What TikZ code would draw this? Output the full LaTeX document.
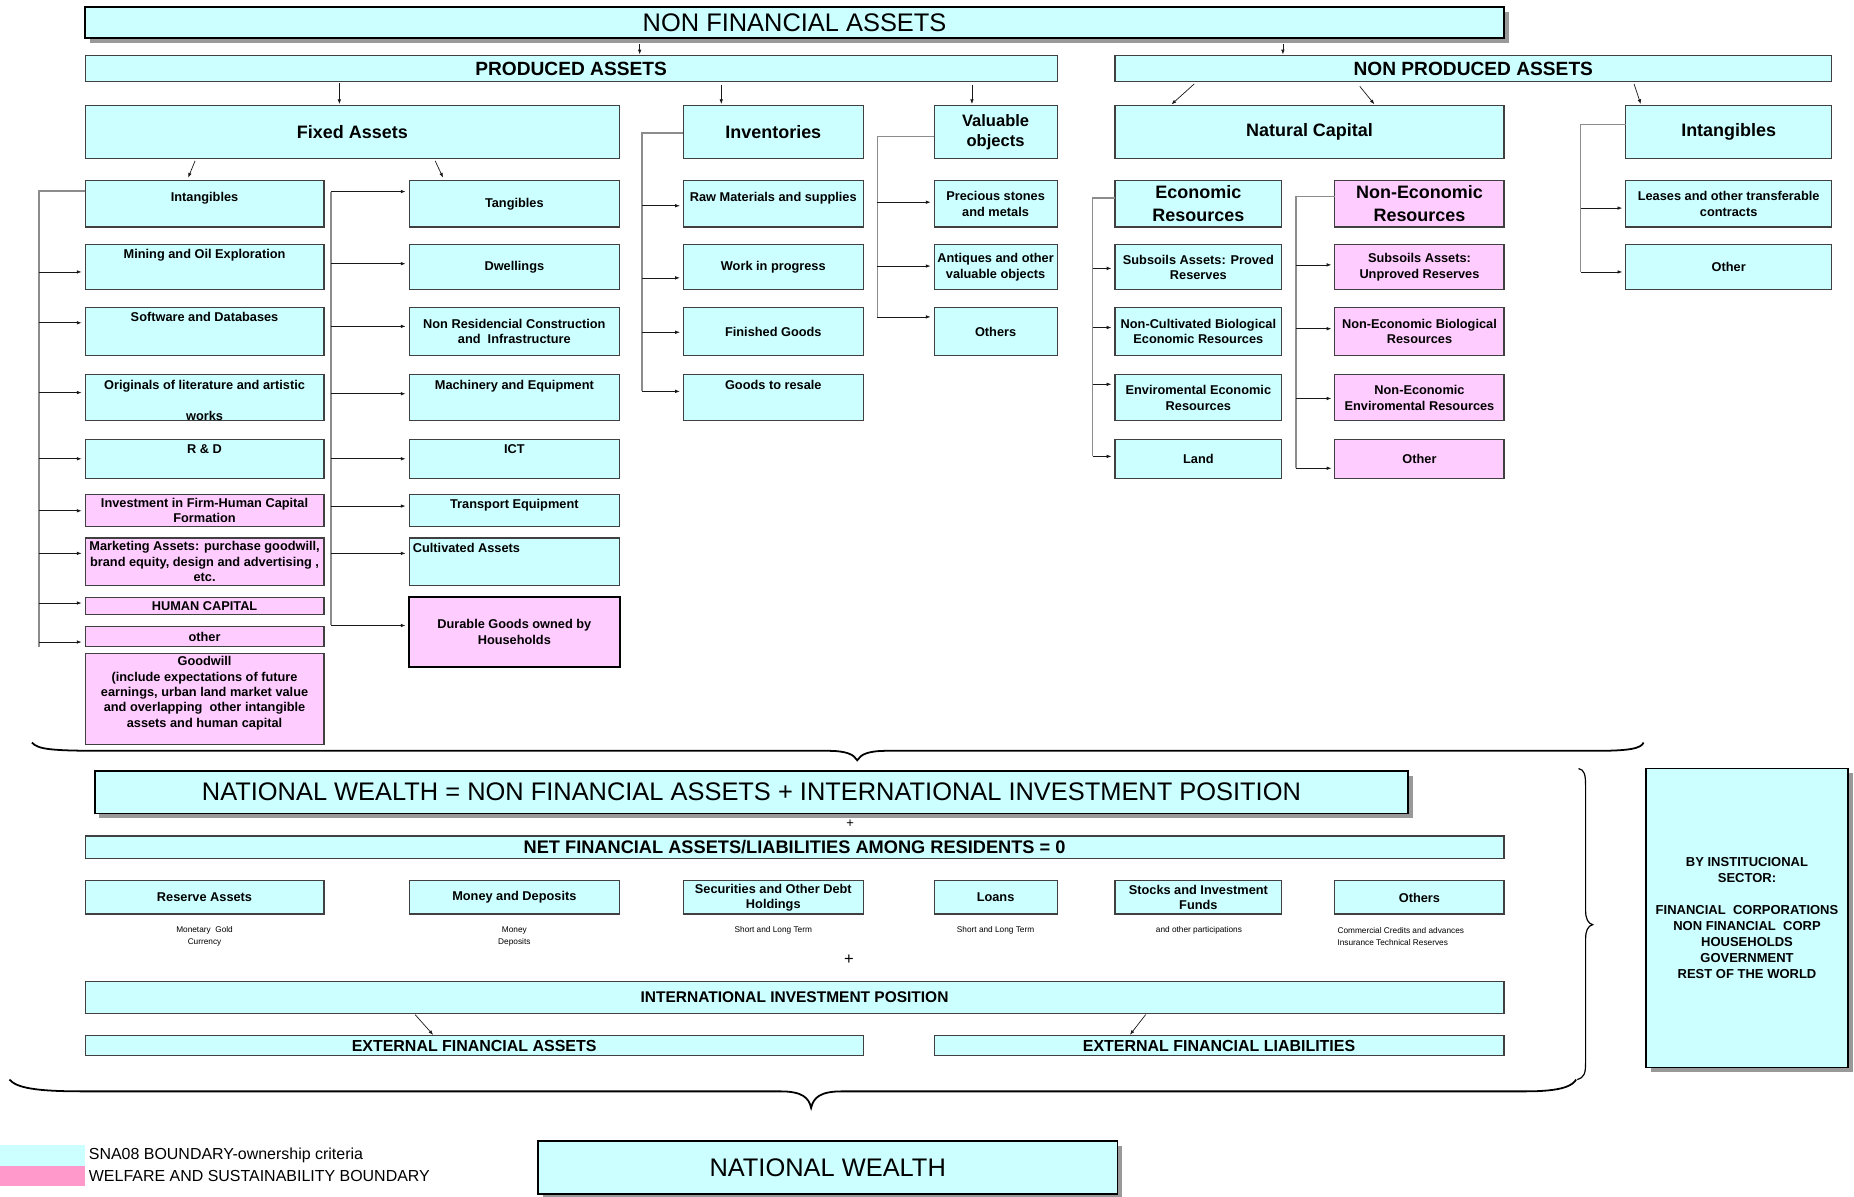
\documentclass[tikz,border=0pt]{standalone}
\usepackage{fontspec}
\setmainfont{Liberation Sans}
\usetikzlibrary{arrows.meta,shadows}
\definecolor{cy}{HTML}{CCFFFF}
\definecolor{pk}{HTML}{FFCCFF}
\definecolor{lpk}{HTML}{FF99CC}
\definecolor{lcy}{HTML}{CCFFFF}
\newcommand\bxc[8]{\node[#6,#7,minimum width={#4-#2},minimum height={#5-#3}] (#1) at ({(#2+#4)/2},{(#3+#5)/2}) {#8};}
\newcommand\bxt[8]{\node[#6,minimum width={#4-#2},minimum height={#5-#3}] (#1) at ({(#2+#4)/2},{(#3+#5)/2}) {};
  \node[anchor=north,#7] (#1t) at ([yshift=-4pt]#1.north) {#8};}
\newcommand\sparr[3]{\draw[arr] (#1,#2) -- (#3.west |- #1,#2);}
\tikzset{
  bxbase/.style={draw=black!75,line width=0.9pt,inner sep=0pt,outer sep=0pt},
  cyb/.style={bxbase,fill=cy},
  pkb/.style={bxbase,fill=pk},
  bigb/.style={cyb,draw=black,line width=1.6pt,drop shadow={shadow xshift=4pt,shadow yshift=-4pt,fill=black!40,opacity=1}},
  tb11/.style={font=\fontsize{10.8}{13}\selectfont\bfseries,align=center,inner sep=0pt},
  tb13/.style={font=\fontsize{13.1}{16}\selectfont\bfseries,align=center,inner sep=0pt},
  tb135/.style={font=\fontsize{13.5}{16}\selectfont\bfseries,align=center,inner sep=0pt},
  tb14/.style={font=\fontsize{14}{17}\selectfont\bfseries,align=center,inner sep=0pt},
  tb15/.style={font=\fontsize{15.2}{19.5}\selectfont\bfseries,align=center,inner sep=0pt},
  tb16/.style={font=\fontsize{16.2}{19}\selectfont\bfseries,align=center,inner sep=0pt},
  tbnet/.style={font=\fontsize{15.4}{18}\selectfont\bfseries,align=center,inner sep=0pt},
  treg/.style={font=\fontsize{21.5}{25}\selectfont,align=center,inner sep=0pt},
  tinyt/.style={font=\fontsize{7}{10}\selectfont,align=center,inner sep=0pt},
  legt/.style={font=\fontsize{13.5}{15}\selectfont,anchor=west,inner sep=0pt},
  arr/.style={-{Latex[length=4pt,width=3pt]},draw=black!90,line width=0.6pt,shorten >=3pt},
  darr/.style={-{Latex[length=4pt,width=3pt]},draw=black!90,line width=0.6pt,shorten >=1pt},
  spine/.style={draw=black!45,line width=1pt},
  brace/.style={draw=black,line width=1.5pt}
}
\begin{document}
\begin{tikzpicture}[x=1pt,y=-1pt]
\fill[white] (0,0) rectangle (1568,1012);
\useasboundingbox (0,0) rectangle (1568,1012);

% ---------- top levels
\bxc{nfa}{72}{6}{1272}{32}{bigb}{treg}{NON FINANCIAL ASSETS}
\bxc{pa}{72}{47}{894}{69}{cyb}{tb16}{PRODUCED ASSETS}
\bxc{npa}{943}{47}{1549}{69}{cyb}{tb16}{NON PRODUCED ASSETS}

\bxc{fa}{72}{89}{524}{134}{cyb}{tb15}{Fixed Assets}
\bxc{inv}{578}{89}{730}{134}{cyb}{tb15}{Inventories}
\bxc{val}{790}{89}{894}{134}{cyb}{tb14}{Valuable\\objects}
\bxc{nat}{943}{89}{1272}{134}{cyb}{tb15}{Natural Capital}
\bxc{rint}{1375}{89}{1549}{134}{cyb}{tb15}{Intangibles}

% ---------- fixed assets: intangibles
\bxt{fint}{72}{153}{274}{192}{cyb}{tb11,yshift=-5pt}{Intangibles}
\bxt{mine}{72}{207}{274}{245}{cyb}{tb11}{Mining and Oil Exploration}
\bxt{soft}{72}{260}{274}{301}{cyb}{tb11}{Software and Databases}
\bxt{orig}{72}{317}{274}{356}{cyb}{tb11}{Originals of literature and artistic\\[14pt]works}
\bxt{rd}{72}{372}{274}{405}{cyb}{tb11}{R \& D}
\bxc{invh}{72}{418}{274}{445}{pkb}{tb11}{Investment in Firm-Human Capital\\Formation}
\bxc{mkt}{72}{455}{274}{495}{pkb}{tb11}{Marketing Assets: purchase goodwill,\\brand equity, design and advertising ,\\etc.}
\bxc{hc}{72}{505}{274}{520}{pkb}{tb11}{HUMAN CAPITAL}
\bxc{oth1}{72}{530}{274}{547}{pkb}{tb11}{other}
\bxt{gw}{72}{553}{274}{630}{pkb}{tb11,yshift=2pt}{Goodwill\\(include expectations of future\\earnings, urban land market value\\and overlapping~ other intangible\\assets and human capital}

% ---------- fixed assets: tangibles
\bxc{tang}{346}{153}{524}{192}{cyb}{tb11}{Tangibles}
\bxc{dwel}{346}{207}{524}{245}{cyb}{tb11}{Dwellings}
\bxc{nres}{346}{260}{524}{301}{cyb}{tb11}{Non Residencial Construction\\and~ Infrastructure}
\bxt{mach}{346}{317}{524}{356}{cyb}{tb11}{Machinery and Equipment}
\bxt{ict}{346}{372}{524}{405}{cyb}{tb11}{ICT}
\bxt{trans}{346}{418}{524}{445}{cyb}{tb11}{Transport Equipment}
\node[cyb,minimum width=178,minimum height=40] (cult) at (435,475) {};
\node[tb11,anchor=north west] (cultt) at ([xshift=3pt,yshift=-4pt]cult.north west) {Cultivated Assets};
\bxc{dur}{346}{505}{524}{564}{pkb,draw=black,line width=1.6pt}{tb11}{Durable Goods owned by\\Households}

% ---------- inventories
\bxt{raw}{578}{153}{730}{192}{cyb}{tb11,yshift=-5pt}{Raw Materials and supplies}
\bxc{wip}{578}{207}{730}{245}{cyb}{tb11}{Work in progress}
\bxc{fin}{578}{260}{730}{301}{cyb}{tb11}{Finished Goods}
\bxt{gtr}{578}{317}{730}{356}{cyb}{tb11}{Goods to resale}

% ---------- valuables
\bxc{prec}{790}{153}{894}{192}{cyb}{tb11}{Precious stones\\and metals}
\bxc{anti}{790}{207}{894}{245}{cyb}{tb11}{Antiques and other\\valuable objects}
\bxc{voth}{790}{260}{894}{301}{cyb}{tb11}{Others}

% ---------- economic resources
\bxc{eco}{943}{153}{1084}{192}{cyb}{tb15}{Economic\\Resources}
\bxc{sub1}{943}{207}{1084}{245}{cyb}{tb11}{Subsoils Assets: Proved\\Reserves}
\bxc{ncb}{943}{260}{1084}{301}{cyb}{tb11}{Non-Cultivated Biological\\Economic Resources}
\bxc{enve}{943}{317}{1084}{356}{cyb}{tb11}{Enviromental Economic\\Resources}
\bxc{land}{943}{372}{1084}{405}{cyb}{tb11}{Land}

% ---------- non-economic resources
\bxc{neco}{1129}{153}{1272}{192}{pkb}{tb15}{Non-Economic\\Resources}
\bxc{sub2}{1129}{207}{1272}{245}{pkb}{tb11}{Subsoils Assets:\\Unproved Reserves}
\bxc{neb}{1129}{260}{1272}{301}{pkb}{tb11}{Non-Economic Biological\\Resources}
\bxc{nee}{1129}{317}{1272}{356}{pkb}{tb11}{Non-Economic\\Enviromental Resources}
\bxc{noth}{1129}{372}{1272}{405}{pkb}{tb11}{Other}

% ---------- right intangibles
\bxc{lease}{1375}{153}{1549}{192}{cyb}{tb11}{Leases and other transferable\\contracts}
\bxc{roth}{1375}{207}{1549}{245}{cyb}{tb11}{Other}

% ---------- top arrows
\draw[darr] (nfa.south -| 541,0) ++(0,5) -- (pa.north -| 541,0);
\draw[darr] (nfa.south -| 1085,0) ++(0,5) -- (npa.north -| 1085,0);
\draw[darr] (pa.south -| 287,0) ++(0,1) -- (fa.north -| 287,0);
\draw[darr] (pa.south -| 610,0) ++(0,3) -- (inv.north -| 610,0);
\draw[darr] (pa.south -| 822,0) ++(0,3) -- (val.north -| 822,0);
\draw[darr] (npa.south -| 1010,0) ++(0,2) -- (nat.north -| 990,0);
\draw[darr] (npa.south -| 1150,0) ++(0,4) -- (nat.north -| 1163,0);
\draw[darr] (npa.south -| 1382,0) ++(0,2) -- (rint.north -| 1388,0);
\draw[arr] (fa.south -| 165,0) ++(0,2) -- (fint.north -| 158,0);
\draw[arr] (fa.south -| 368,0) ++(0,2) -- (tang.north -| 376,0);

% ---------- spines
\coordinate (s1) at (33,547);
\draw[spine] ([yshift=11pt]fint.west) -| (s1);
\sparr{33}{230}{mine}
\sparr{33}{273}{soft}
\sparr{33}{332}{orig}
\sparr{33}{388}{rd}
\sparr{33}{432}{invh}
\sparr{33}{468}{mkt}
\sparr{33}{510}{hc}
\sparr{33}{543}{oth1}

\coordinate (s2t) at (280,162);
\coordinate (s2b) at (280,529);
\draw[spine] (s2t) -- (s2b);
\sparr{280}{162}{tang}
\sparr{280}{223}{dwel}
\sparr{280}{276}{nres}
\sparr{280}{333}{mach}
\sparr{280}{388}{ict}
\sparr{280}{428}{trans}
\sparr{280}{468}{cult}
\sparr{280}{529}{dur}

\coordinate (s3) at (543,331);
\draw[spine] ([yshift=-1pt]inv.west) -| (s3);
\sparr{543}{174}{raw}
\sparr{543}{235}{wip}
\sparr{543}{281}{fin}
\sparr{543}{331}{gtr}

\coordinate (s4) at (742,268);
\draw[spine] ([yshift=-4pt]val.west) -| (s4);
\sparr{742}{171}{prec}
\sparr{742}{225}{anti}
\sparr{742}{268}{voth}

\coordinate (s5) at (924,386);
\draw[spine] ([yshift=5pt]eco.west) -| (s5);
\sparr{924}{227}{sub1}
\sparr{924}{277}{ncb}
\sparr{924}{325}{enve}
\sparr{924}{386}{land}

\coordinate (s6) at (1096,396);
\draw[spine] ([yshift=6pt]neco.west) -| (s6);
\sparr{1096}{224}{sub2}
\sparr{1096}{278}{neb}
\sparr{1096}{337}{nee}
\sparr{1096}{396}{noth}

\coordinate (s7) at (1337,230);
\draw[spine] ([yshift=6pt]rint.west) -| (s7);
\sparr{1337}{176}{lease}
\sparr{1337}{230}{roth}

% ---------- brace under non financial assets
\draw[brace] (27,628) .. controls (32,634) and (45,635) .. (90,635) -- (700,635)
  .. controls (716,635) and (722,638) .. (725,643)
  .. controls (728,638) and (734,635) .. (750,635) -- (1350,635)
  .. controls (1378,635) and (1388,633) .. (1390,628);

% ---------- financial part
\bxc{nw}{80}{652}{1191}{688}{bigb}{treg}{NATIONAL WEALTH = NON FINANCIAL ASSETS + INTERNATIONAL INVESTMENT POSITION}
\node[font=\fontsize{11}{13}\selectfont,inner sep=0pt] (plus1) at (719,697) {+};
\bxc{net}{72}{707}{1272}{726}{cyb}{tbnet}{NET FINANCIAL ASSETS/LIABILITIES AMONG RESIDENTS = 0}
\bxc{res}{72}{745}{274}{773}{cyb}{tb11}{Reserve Assets}
\bxc{mon}{346}{745}{524}{773}{cyb}{tb11}{Money and Deposits}
\bxc{sec}{578}{745}{730}{773}{cyb}{tb11}{Securities and Other Debt\\Holdings}
\bxc{loan}{790}{745}{894}{773}{cyb}{tb11}{Loans}
\bxc{stk}{943}{745}{1084}{773}{cyb}{tb11}{Stocks and Investment\\Funds}
\bxc{oth2}{1129}{745}{1272}{773}{cyb}{tb11}{Others}
\node[tinyt] (resn) at (173,792) {Monetary~ Gold\\Currency};
\node[tinyt] (monn) at (435,792) {Money\\Deposits};
\node[tinyt] (secn) at (654,787) {Short and Long Term};
\node[tinyt] (loann) at (842,787) {Short and Long Term};
\node[tinyt] (stkn) at (1014,787) {and other participations};
\node[tinyt,align=left,anchor=west] (othn) at (1131,792) {Commercial Credits and advances\\Insurance Technical Reserves};
\node[font=\fontsize{14}{16}\selectfont,inner sep=0pt] (plus2) at (718,812) {+};
\bxc{iip}{72}{830}{1272}{857}{cyb}{tb13}{INTERNATIONAL INVESTMENT POSITION}
\bxc{efa}{72}{876}{730}{893}{cyb}{tb135}{EXTERNAL FINANCIAL ASSETS}
\bxc{efl}{790}{876}{1272}{893}{cyb}{tb135}{EXTERNAL FINANCIAL LIABILITIES}
\draw[darr] (iip.south -| 351,0) ++(0,1) -- (efa.north -| 367,0);
\draw[darr] (iip.south -| 969,0) ++(0,1) -- (efl.north -| 955,0);

\draw[draw=black,line width=1pt] (1335,650) .. controls (1340,651) and (1341,655) .. (1341,665) -- (1341,770)
  .. controls (1341,777) and (1343,781) .. (1347,782)
  .. controls (1343,783) and (1341,787) .. (1341,794) -- (1341,898)
  .. controls (1341,908) and (1340,911) .. (1334,913);

\bxc{inst}{1392}{650}{1563}{903}{bigb,line width=1.2pt}{font=\fontsize{11}{13.5}\selectfont\bfseries,align=center,inner sep=0pt}{BY INSTITUCIONAL\\SECTOR:\\[13.5pt]FINANCIAL~ CORPORATIONS\\NON FINANCIAL~ CORP\\HOUSEHOLDS\\GOVERNMENT\\REST OF THE WORLD}

\draw[brace] (8,913) .. controls (14,920) and (30,923) .. (70,923) -- (660,923)
  .. controls (678,923) and (684,928) .. (686,937)
  .. controls (688,928) and (694,923) .. (712,923) -- (1290,923)
  .. controls (1322,923) and (1330,918) .. (1333,913);

% ---------- legend and result
\node[fill=lcy,minimum width=72,minimum height=18,inner sep=0pt,anchor=north west] (lg1) at (0,968) {};
\node[fill=lpk,minimum width=72,minimum height=17,inner sep=0pt,anchor=north west] (lg2) at (0,986) {};
\node[legt] (lg1t) at (75,977) {SNA08 BOUNDARY-ownership criteria};
\node[legt] (lg2t) at (75,995) {WELFARE AND SUSTAINABILITY BOUNDARY};
\bxc{nwb}{455}{965}{945}{1010}{bigb,line width=1.4pt}{treg}{NATIONAL WEALTH}
\end{tikzpicture}
\end{document}
